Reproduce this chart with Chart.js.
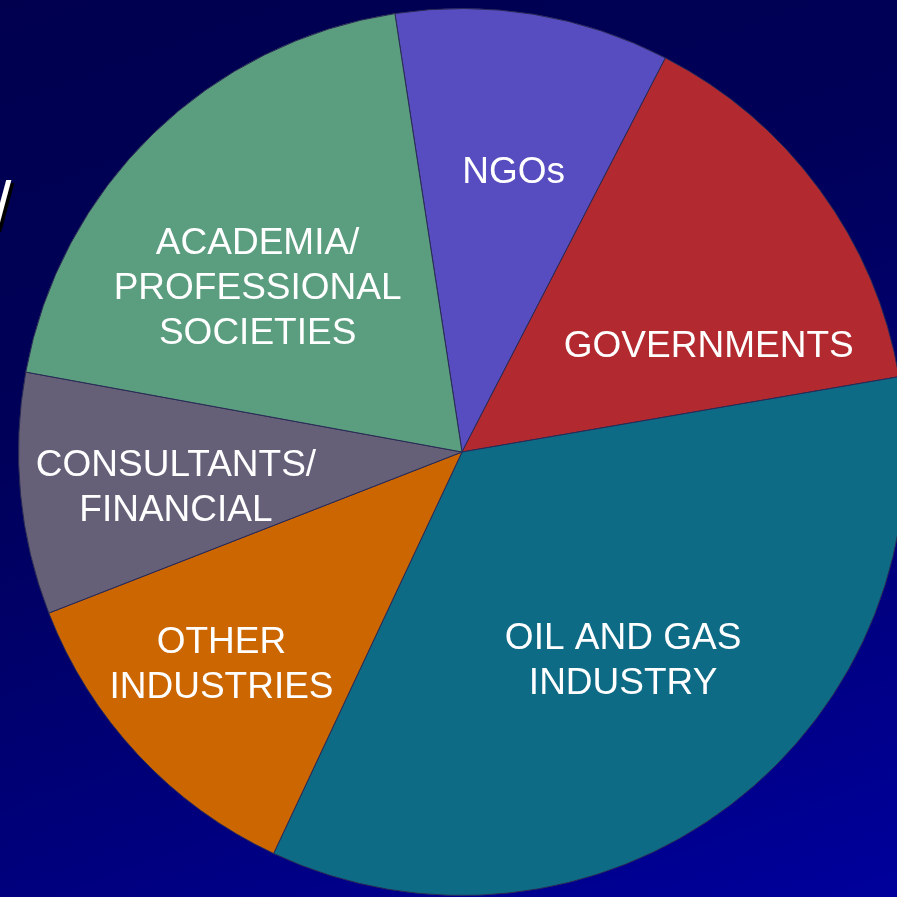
<!DOCTYPE html>
<html>
<head>
<meta charset="utf-8">
<script src="https://cdn.jsdelivr.net/npm/chart.js@4/dist/chart.umd.min.js"></script>
<style>
  html, body { margin: 0; padding: 0; width: 897px; height: 897px; overflow: hidden; }
  body { position: relative; background: linear-gradient(160deg, #00004f 0%, #000058 35%, #00007a 70%, #00009c 100%); }
  #pie { position: absolute; left: 12px; top: 2px; }
  #slash { position: absolute; left: -7px; top: 167px; font: 66px "Liberation Sans", Arial, sans-serif;
           color: #fff; text-shadow: 3px 3px 0 #000; }
</style>
</head>
<body>
<div id="slash">/</div>
<canvas id="pie" width="900" height="900"></canvas>
<script>
// slice order, clockwise from the top
const categories = [
  ['NGOs'],
  ['GOVERNMENTS'],
  ['OIL AND GAS', 'INDUSTRY'],
  ['OTHER', 'INDUSTRIES'],
  ['CONSULTANTS/', 'FINANCIAL'],
  ['ACADEMIA/', 'PROFESSIONAL', 'SOCIETIES']
];
const shares = [10.0, 14.7, 34.7, 12.1, 8.8, 19.7];
const sliceColors = ['#574cc0', '#b22a30', '#0d6b86', '#cc6600', '#656078', '#5b9d7f'];

// where each label sits inside its slice: [angle shift in degrees, fraction of radius]
const labelSpots = [[1.2, 0.64], [13.1, 0.605], [-0.3, 0.595], [1.5, 0.725], [-1.7, 0.65], [-7.2, 0.59]];

const sliceLabels = {
  id: 'sliceLabels',
  afterDatasetsDraw(chart) {
    const ctx = chart.ctx;
    const arcs = chart.getDatasetMeta(0).data;
    ctx.save();
    ctx.fillStyle = '#ffffff';
    ctx.font = '37px "Liberation Sans", Arial, sans-serif';
    ctx.textAlign = 'center';
    ctx.textBaseline = 'middle';
    arcs.forEach((arc, i) => {
      const p = arc.getProps(['x', 'y', 'startAngle', 'endAngle', 'outerRadius'], true);
      const ang = (p.startAngle + p.endAngle) / 2 + labelSpots[i][0] * Math.PI / 180;
      const r = p.outerRadius * labelSpots[i][1];
      const cx = p.x + Math.cos(ang) * r;
      const cy = p.y + Math.sin(ang) * r;
      const lines = categories[i];
      const lh = 45;
      lines.forEach((t, k) => {
        ctx.fillText(t, cx, cy + (k - (lines.length - 1) / 2) * lh);
      });
    });
    ctx.restore();
  }
};

new Chart(document.getElementById('pie'), {
  type: 'pie',
  data: {
    labels: categories.map(c => c.join(' ')),
    datasets: [{
      data: shares,
      backgroundColor: sliceColors,
      borderColor: '#2a2a55',
      borderWidth: 1
    }]
  },
  options: {
    responsive: false,
    animation: false,
    rotation: -8.7,
    layout: { padding: 6 },
    plugins: {
      legend: { display: false },
      tooltip: { enabled: false }
    }
  },
  plugins: [sliceLabels]
});
</script>
</body>
</html>
